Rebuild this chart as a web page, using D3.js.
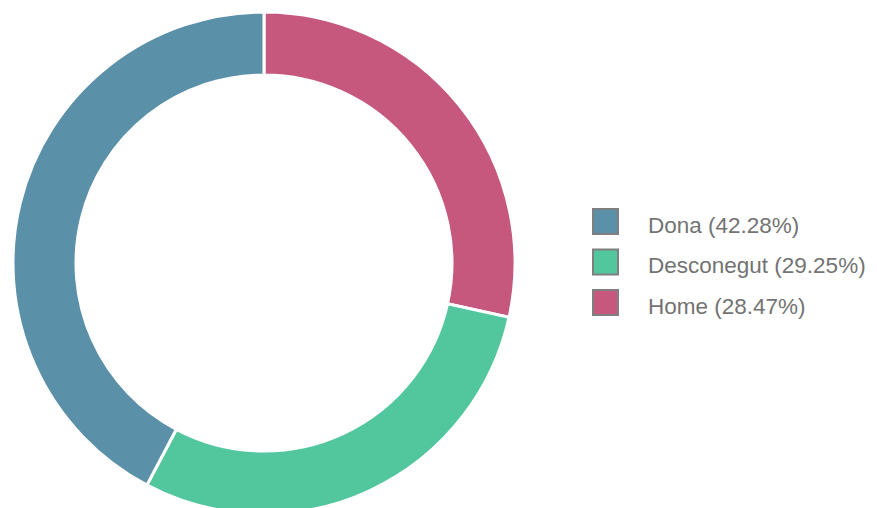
<!DOCTYPE html>
<html><head><meta charset="utf-8">
<script src="https://cdn.jsdelivr.net/npm/d3@7"></script>
<style>body{margin:0;background:#fff;overflow:hidden}svg{display:block}</style>
</head><body>
<svg id="c" width="877" height="508"></svg>
<script>
const categories = ["Dona", "Desconegut", "Home"];
const values = [42.28, 29.25, 28.47];
const colors = ["#5b90a9", "#52c79e", "#c5587c"];
const labels = ["Dona (42.28%)", "Desconegut (29.25%)", "Home (28.47%)"];

const svg = d3.select("#c");
const cx = 264, cy = 263, rOuter = 251, rInner = 188;
const data = categories.map((c, i) => ({c, v: values[i], col: colors[i], label: labels[i]}));
// drawn clockwise from top in reverse order (Home, Desconegut, Dona)
const pie = d3.pie().sort(null).value(d => d.v);
const arcs = pie(data.slice().reverse());
const arc = d3.arc().innerRadius(rInner).outerRadius(rOuter);
svg.append("g").attr("transform", `translate(${cx},${cy})`)
  .selectAll("path").data(arcs).join("path")
  .attr("d", arc).attr("fill", d => d.data.col)
  .attr("stroke", "#fff").attr("stroke-width", 3);

const lg = svg.append("g");
const y0 = 208, step = 40.5;
const items = lg.selectAll("g").data(data).join("g")
  .attr("transform", (d, i) => `translate(592,${y0 + i * step})`);
items.append("rect").attr("x", 1).attr("y", 1).attr("width", 25).attr("height", 25)
  .attr("fill", d => d.col).attr("stroke", "#7f7f7f").attr("stroke-width", 2);
items.append("text").attr("x", 56).attr("y", 24.5)
  .attr("font-family", "'Liberation Sans', Arial, sans-serif").attr("font-size", 22.5)
  .attr("fill", "#737373")
  .text(d => d.label);
</script>
</body></html>
